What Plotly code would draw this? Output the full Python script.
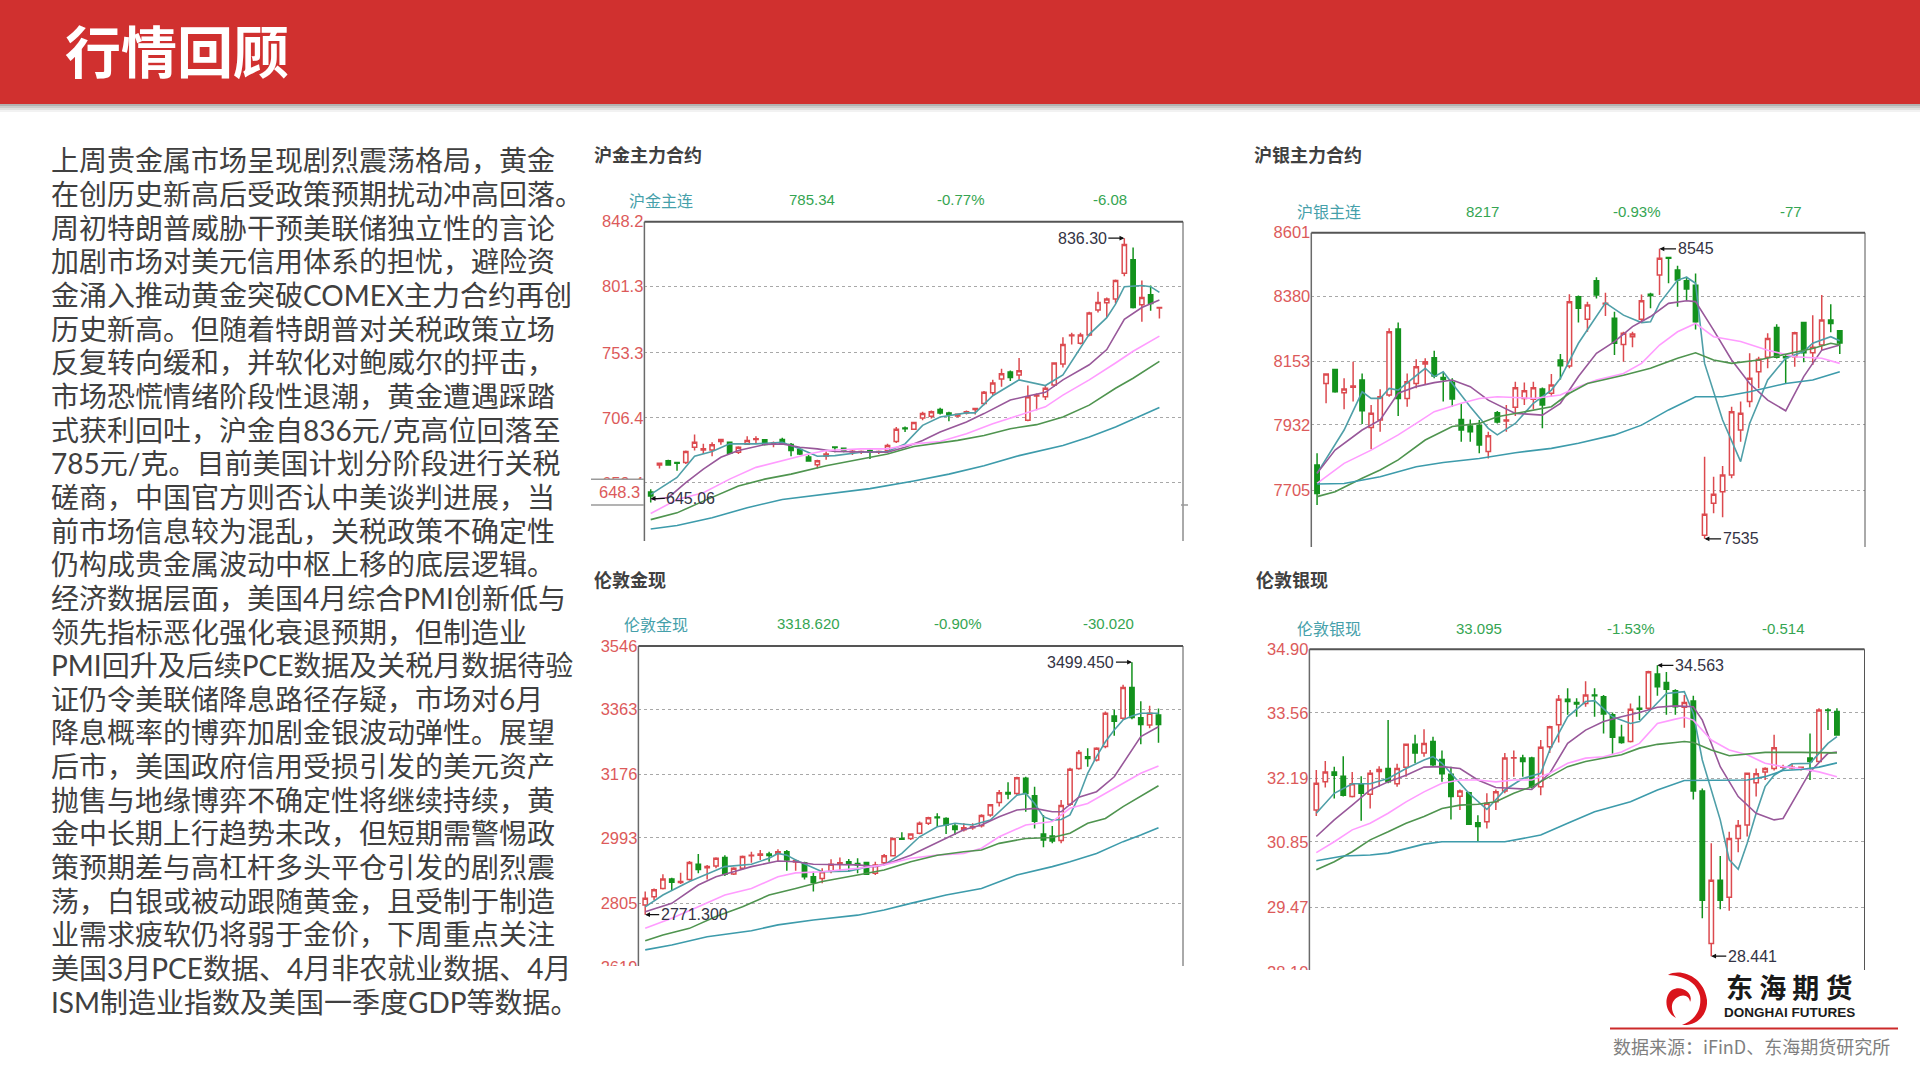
import re
import plotly.graph_objects as go

W, H = 1920, 1080
CJK = "Noto Sans CJK SC"
BODY = "Lato, Noto Sans CJK SC"
NARROW = "Liberation Sans"

page_title = "行情回顾"
body_lines = [
    "上周贵金属市场呈现剧烈震荡格局，黄金",
    "在创历史新高后受政策预期扰动冲高回落。",
    "周初特朗普威胁干预美联储独立性的言论",
    "加剧市场对美元信用体系的担忧，避险资",
    "金涌入推动黄金突破COMEX主力合约再创",
    "历史新高。但随着特朗普对关税政策立场",
    "反复转向缓和，并软化对鲍威尔的抨击，",
    "市场恐慌情绪阶段性退潮，黄金遭遇踩踏",
    "式获利回吐，沪金自836元/克高位回落至",
    "785元/克。目前美国计划分阶段进行关税",
    "磋商，中国官方则否认中美谈判进展，当",
    "前市场信息较为混乱，关税政策不确定性",
    "仍构成贵金属波动中枢上移的底层逻辑。",
    "经济数据层面，美国4月综合PMI创新低与",
    "领先指标恶化强化衰退预期，但制造业",
    "PMI回升及后续PCE数据及关税月数据待验",
    "证仍令美联储降息路径存疑，市场对6月",
    "降息概率的博弈加剧金银波动弹性。展望",
    "后市，美国政府信用受损引发的美元资产",
    "抛售与地缘博弈不确定性将继续持续，黄",
    "金中长期上行趋势未改，但短期需警惕政",
    "策预期差与高杠杆多头平仓引发的剧烈震",
    "荡，白银或被动跟随黄金，且受制于制造",
    "业需求疲软仍将弱于金价，下周重点关注",
    "美国3月PCE数据、4月非农就业数据、4月",
    "ISM制造业指数及美国一季度GDP等数据。",
]
source_text = "数据来源：iFinD、东海期货研究所"

# ---------------- 沪金主连 ----------------
shau_ticks = ["848.2", "801.3", "753.3", "706.4", "659.4", "610.2"]
shau_open = [652.7,672.2,675.3,674.1,674.1,685.1,683.1,683.1,689.2,688.7,681.4,687.3,690.7,690.5,687.8,690.7,687.0,683.4,678.0,672.4,678.5,685.3,684.4,681.7,681.4,682.7,681.4,682.7,689.2,699.0,698.0,706.3,707.5,712.4,709.9,707.7,709.9,712.4,716.7,724.5,734.5,739.4,737.4,704.6,722.1,721.6,730.1,745.2,765.7,760.3,766.2,784.4,789.5,792.2,811.0,820.7,788.1,795.4,785.7]
shau_high = [654.7,673.4,676.1,674.5,682.7,694.3,687.5,688.7,691.2,689.2,685.8,693.1,693.1,690.9,689.2,691.9,688.2,684.4,679.5,676.1,681.9,685.8,684.8,683.1,682.7,683.4,682.7,687.5,699.7,700.0,703.4,710.7,711.6,713.6,710.7,709.4,711.6,713.6,725.8,733.8,741.8,740.6,749.6,729.7,724.0,730.1,746.5,764.7,767.9,767.9,783.0,797.6,793.4,806.4,836.3,829.5,805.6,802.0,786.1]
shau_low = [645.06,669.7,671.7,668.0,672.9,682.7,680.2,678.5,686.8,680.2,680.2,686.8,687.5,686.3,685.1,687.5,678.5,679.5,674.6,669.7,676.1,681.4,681.4,679.5,680.2,676.6,680.2,681.4,688.2,696.1,698.0,704.6,705.8,708.7,703.8,706.8,708.7,708.7,715.5,722.8,728.9,733.0,733.8,703.8,711.9,719.2,728.9,742.8,759.4,759.4,765.4,782.5,779.3,789.0,808.8,785.4,775.9,783.7,778.1]
shau_close = [649.8,673.4,672.2,673.4,682.0,688.7,683.9,686.8,690.7,680.7,685.1,690.0,691.2,687.0,688.2,688.2,682.7,680.2,675.1,675.3,680.2,684.8,682.7,682.2,682.0,681.4,682.0,686.3,698.0,698.5,702.9,709.4,710.7,709.9,708.7,709.0,710.7,713.1,724.8,731.6,738.2,735.5,740.4,721.6,722.8,727.7,746.0,759.4,766.2,766.2,782.2,789.8,792.2,805.6,831.7,786.1,793.4,789.1,786.1]
shau_ma5_i = [0,3,5,7,9,12,15,17,19,21,24,27,29,31,33,36,37,39,42,45,47,50,52,53,54,56,57,58]
shau_ma5 = [651,663.2,678.5,682,687.5,687.5,688.7,683.9,678.5,679,681.4,682,687.5,700.9,707,709.9,709.9,722.3,733.8,729.7,737.4,766.7,778.8,788.6,801.2,802,801.2,797.1]
shau_ma10_i = [0,2,4,6,8,10,13,15,17,19,21,25,27,29,31,33,36,38,41,43,45,47,50,52,54,56,58]
shau_ma10 = [647.3,648.6,659.5,669.3,677.8,682.7,687,687.5,685.1,683.9,682,681.4,681.4,685.1,690,696.1,703.4,709.4,719.2,722.1,724.8,733.8,744.7,755.7,777.6,786.1,791.5]
shau_ma20_i = [0,3,6,9,12,15,18,20,24,27,30,33,36,39,42,45,47,50,53,55,58]
shau_ma20 = [637.1,647.3,652.2,662,670.5,675.3,680.2,682.7,683.9,683.9,687.5,689.2,694.8,702.1,708.2,714.3,722.8,733.8,746,754.5,765.4]
shau_ma30_i = [0,3,6,10,13,16,20,24,27,30,35,38,41,44,47,50,53,55,58]
shau_ma30 = [632.7,637.6,646.1,657.1,662,665.6,671.7,676.6,680.2,685.6,690,693.6,698.5,701.4,707,715.5,727.7,735,747.2]
shau_ma60_i = [0,3,7,11,15,20,25,30,34,38,42,47,50,53,56,58]
shau_ma60 = [625.9,628.4,634,641.3,647.3,651,655.1,660.7,665.6,671.7,679,686.3,692.4,699.7,708.2,713.8]

# ---------------- 沪银主连 ----------------
shag_ticks = ["8601", "8380", "8153", "7932", "7705", "7478"]
shag_open = [7792,8076,8125,8044,8063,8088,7923,7949,8036,8266,8024,8076,8144,8166,8097,8080,7951,7928,7930,7839,7974,7945,7993,8024,8021,8057,8042,8158,8137,8378,8300,8434,8353,8303,8212,8239,8300,8387,8454,8515,8471,8434,8418,7548,7659,7699,7757,7914,8013,8117,8167,8271,8169,8169,8288,8183,8210,8297,8260]
shag_high = [7833,8109,8127,8094,8152,8111,8001,8056,8268,8288,8111,8160,8164,8190,8117,8094,8007,7951,7949,7908,7980,8001,8082,8079,8082,8062,8109,8179,8387,8382,8361,8446,8392,8326,8256,8256,8386,8392,8545,8517,8486,8448,8459,7821,7751,7789,7995,8013,8181,8169,8251,8282,8175,8256,8291,8314,8384,8352,8262]
shag_low = [7653,8007,8044,7986,8013,7935,7847,7908,8030,7963,7995,8059,8071,8094,8013,7995,7873,7873,7833,7815,7937,7908,7963,8001,7986,7920,8030,8090,8129,8288,8256,8372,8311,8175,8152,8202,8291,8338,8384,8425,8343,8367,8264,7535,7624,7610,7746,7873,7993,8059,8129,8163,8076,8134,8150,8140,8192,8254,8179]
shag_close = [7693,8109,8047,8057,8067,7981,7972,8030,8256,8024,8082,8134,8152,8102,8090,8022,7914,7908,7862,7894,7942,7949,8061,8051,8061,8001,8071,8138,8361,8338,8349,8384,8355,8216,8251,8248,8364,8382,8512,8512,8436,8405,8291,7621,7690,7757,7978,7972,8094,8160,8233,8167,8166,8253,8183,8202,8297,8285,8217]
shag_ma5_i = [0,3,5,6,7,8,9,11,12,13,14,15,17,19,20,22,24,26,27,29,31,32,34,36,37,38,40,41,42,43,45,47,48,50,52,54,55,56,57,58]
shag_ma5 = [7763,7914,8047,8024,8024,8059,8053,8105,8129,8100,8117,8076,7995,7920,7897,7937,8007,8053,8094,8216,8309,8357,8314,8288,8291,8355,8436,8446,8425,8146,7949,7804,7937,8088,8164,8187,8216,8227,8239,8225]
shag_ma10_i = [0,2,5,7,9,11,13,15,17,19,22,25,27,29,31,33,35,37,39,41,42,44,46,48,50,52,54,56,58]
shag_ma10 = [7763,7844,7914,7949,8042,8065,8079,8088,8065,8018,7972,7966,8007,8100,8181,8222,8274,8309,8355,8364,8361,8262,8158,8076,8018,7981,8100,8192,8210]
shag_ma20_i = [0,3,6,9,11,13,16,18,20,24,27,29,31,34,36,38,40,42,44,47,50,53,56,58]
shag_ma20 = [7728,7798,7844,7897,7937,7978,8007,8024,8030,8024,8036,8065,8088,8111,8146,8210,8256,8285,8239,8222,8192,8169,8164,8146]
shag_ma30_i = [0,2,5,7,9,12,15,18,20,23,26,28,30,34,37,40,42,44,46,49,52,55,57,58]
shag_ma30 = [7682,7699,7746,7775,7810,7879,7926,7937,7960,7978,7995,8042,8076,8105,8129,8164,8183,8158,8146,8158,8179,8198,8216,8210]
shag_ma60_i = [0,3,7,11,14,18,22,26,29,33,36,39,42,45,48,52,55,58]
shag_ma60 = [7726,7728,7751,7786,7801,7815,7835,7850,7868,7897,7931,7984,8030,8030,8047,8076,8088,8117]

# ---------------- 伦敦金现 ----------------
lnau_ticks = ["3546", "3363", "3176", "2993", "2805", "2619"]
lnau_open = [2799,2823,2847,2874,2864,2873,2917,2907,2912,2936,2889,2905,2941,2943,2946,2948,2953,2923,2921,2881,2876,2897,2917,2924,2919,2922,2891,2921,2941,2991,2991,3006,3035,3053,3049,3027,3016,3022,3028,3059,3095,3124,3121,3165,3114,3004,2998,2985,3090,3193,3227,3217,3256,3344,3338,3426,3339,3318,3347]
lnau_high = [2838,2847,2888,2878,2892,2926,2946,2915,2937,2943,2908,2942,2953,2958,2953,2960,2958,2931,2924,2895,2905,2931,2936,2932,2934,2924,2924,2946,2993,3009,3006,3040,3054,3064,3052,3033,3035,3035,3061,3090,3131,3153,3169,3169,3140,3059,3027,3102,3195,3246,3251,3254,3357,3362,3434,3499.45,3387,3374,3366]
lnau_low = [2771.3,2814,2844,2841,2860,2869,2891,2873,2905,2883,2886,2900,2921,2929,2924,2924,2898,2898,2873,2838,2862,2891,2895,2895,2891,2886,2886,2915,2939,2987,2987,3003,3030,3025,3004,3001,3011,3016,3023,3054,3083,3104,3116,3068,3020,2966,2977,2977,3085,3189,3198,3213,3251,3287,3333,3335,3263,3309,3267]
lnau_close = [2819,2843,2874,2865,2867,2922,2902,2910,2934,2888,2905,2939,2943,2946,2942,2953,2929,2927,2881,2864,2895,2917,2921,2917,2915,2888,2915,2941,2991,2989,3004,3035,3051,3051,3030,3017,3022,3025,3057,3088,3123,3119,3166,3121,3041,2987,2984,3086,3191,3239,3222,3251,3352,3329,3426,3340,3320,3352,3320]
lnau_ma5_i = [0,2,5,8,9,12,14,15,16,17,19,20,23,25,27,29,31,33,35,37,39,41,42,43,44,45,46,47,48,49,50,51,52,53,54,55,56,58]
lnau_ma5 = [2794,2828,2867,2900,2910,2917,2934,2948,2943,2929,2905,2895,2897,2908,2915,2948,2996,3025,3035,3030,3044,3092,3116,3121,3092,3054,3044,3046,3059,3112,3179,3227,3270,3304,3333,3344,3352,3352]
lnau_ma10_i = [0,3,6,8,10,12,15,17,19,21,24,26,28,30,32,34,36,38,40,42,44,46,47,49,51,53,55,56,58]
lnau_ma10 = [2780,2804,2857,2881,2895,2910,2926,2924,2917,2917,2915,2910,2924,2943,2967,2991,3016,3030,3054,3073,3078,3068,3068,3110,3126,3169,3246,3285,3313]
lnau_ma20_i = [0,3,6,9,12,15,17,20,24,27,30,33,36,38,40,43,46,48,50,52,54,56,58]
lnau_ma20 = [2732,2761,2794,2828,2847,2881,2892,2895,2905,2915,2934,2943,2948,2963,2996,3030,3040,3078,3092,3121,3150,3179,3200]
lnau_ma30_i = [0,2,5,8,11,14,17,20,24,27,30,33,36,38,40,43,46,48,50,52,54,56,58]
lnau_ma30 = [2696,2713,2732,2766,2794,2828,2847,2867,2886,2900,2924,2943,2953,2958,2977,2991,2994,3006,3035,3049,3083,3112,3143]
lnau_ma60_i = [0,3,7,12,15,19,24,27,30,34,38,42,46,48,51,54,56,58]
lnau_ma60 = [2670,2684,2708,2725,2742,2756,2770,2785,2804,2828,2847,2886,2910,2924,2948,2982,3001,3022]

# ---------------- 伦敦银现 ----------------
lnag_ticks = ["34.90", "33.56", "32.19", "30.85", "29.47", "28.10"]
lnag_open = [31.52,32.11,32.32,32.23,31.80,32.07,31.85,32.33,32.39,32.07,32.42,32.90,32.72,32.96,32.58,32.27,31.81,31.88,31.25,31.27,31.69,31.92,32.61,32.61,32.61,32.01,32.85,33.31,33.85,33.78,33.76,33.94,33.90,33.52,33.05,32.96,33.66,33.66,34.38,34.20,34.03,33.68,33.81,31.92,28.71,30.04,29.68,30.92,31.20,32.09,32.32,32.39,32.42,32.40,32.39,32.61,32.54,33.62,33.59]
lnag_high = [32.36,32.55,32.43,32.65,32.32,32.23,32.36,32.44,33.41,32.49,32.92,33.10,33.22,33.06,32.77,32.43,31.95,31.90,31.41,31.87,31.95,32.72,32.77,32.68,32.64,32.99,33.29,33.94,34.08,33.87,34.23,34.08,33.94,33.57,33.31,33.76,33.92,34.45,34.563,34.42,34.06,33.94,33.92,31.97,30.82,30.55,31.06,31.31,32.30,32.39,32.42,33.10,32.47,32.49,32.43,33.13,33.66,33.66,33.66]
lnag_low = [31.39,31.99,31.76,31.80,31.78,31.29,31.55,32.01,32.08,32.01,32.22,32.50,32.64,32.43,32.11,31.32,31.52,31.20,30.85,31.13,31.52,31.87,32.22,32.22,31.97,31.83,32.72,32.94,33.52,33.48,33.69,33.48,33.13,32.70,32.91,32.94,33.41,33.62,33.92,33.52,33.52,33.25,31.74,29.24,28.441,29.43,29.40,30.63,30.96,31.80,32.15,32.35,32.37,32.37,32.35,32.15,32.51,33.20,33.08]
lnag_close = [32.08,32.32,32.25,31.83,32.07,31.87,32.29,32.37,32.11,32.39,32.90,32.72,32.92,32.47,32.28,31.80,31.92,31.22,31.17,31.66,31.90,32.61,32.62,32.54,32.01,32.84,33.27,33.85,33.80,33.75,33.94,33.92,33.54,33.05,32.94,33.64,33.64,34.43,34.11,34.06,33.69,33.78,31.92,29.62,30.04,29.62,30.92,31.19,32.29,32.28,32.39,32.83,32.43,32.42,32.42,32.54,33.62,33.61,33.095]
lnag_ma5_i = [0,2,4,6,8,10,12,13,14,15,17,19,21,23,25,26,28,30,31,33,35,36,38,39,41,42,43,45,46,47,48,49,50,51,53,55,56,57,58]
lnag_ma5 = [31.45,31.87,32.07,32.07,32.18,32.39,32.57,32.64,32.50,32.29,31.87,31.53,31.94,32.18,32.29,32.78,33.48,33.80,33.82,33.48,33.34,33.38,33.76,33.97,34.01,33.55,32.57,31.31,30.47,30.27,30.82,31.45,32.01,32.25,32.49,32.50,32.71,32.92,33.06]
lnag_ma10_i = [0,2,4,6,8,10,12,14,16,18,20,22,24,26,28,30,32,34,36,38,40,42,43,45,47,49,51,52,53,55,57,58]
lnag_ma10 = [30.96,31.31,31.62,31.94,32.11,32.25,32.42,32.43,32.39,32.15,31.99,31.97,31.95,32.29,32.92,33.20,33.38,33.48,33.57,33.68,33.71,33.69,33.41,32.43,31.80,31.45,31.31,31.34,31.66,32.32,32.71,32.74]
lnag_ma20_i = [0,2,4,6,8,10,12,14,16,18,20,22,24,26,28,30,32,34,36,38,40,41,42,44,46,48,50,52,54,56,58]
lnag_ma20 = [30.62,30.85,31.10,31.24,31.45,31.69,31.90,32.08,32.15,32.15,32.11,32.15,32.15,32.29,32.50,32.61,32.64,32.74,32.92,33.34,33.43,33.47,33.41,32.99,32.78,32.68,32.50,32.43,32.39,32.32,32.22]
lnag_ma30_i = [0,2,4,6,8,10,12,14,16,18,20,22,24,26,28,30,32,34,36,38,40,41,42,44,46,48,50,54,58]
lnag_ma30 = [30.26,30.43,30.64,30.89,31.06,31.24,31.38,31.55,31.62,31.64,31.69,31.87,32.01,32.22,32.43,32.54,32.61,32.68,32.82,32.90,32.94,32.96,32.94,32.78,32.66,32.70,32.73,32.73,32.72]
lnag_ma60_i = [0,3,6,8,12,14,21,25,28,31,35,38,41,48,50,52,54,56,58]
lnag_ma60 = [30.45,30.55,30.57,30.61,30.80,30.85,30.85,30.99,31.24,31.48,31.69,31.94,32.14,32.15,32.22,32.35,32.37,32.42,32.51]

RED, GREEN = "#dc4a4f", "#13921d"
MA_COLORS = ["#4f9fa8", "#98589a", "#ff9cff", "#4f944f", "#3d9bab"]


def X(p):
    return p / W


def Y(p):
    return 1 - p / H


charts = [
    dict(title="沪金主力合约", title_xy=(592, 154), head_y=200,
         head=[("沪金主连", 661), ("785.34", 812), ("-0.77%", 961), ("-6.08", 1110)],
         ticks=shau_ticks, ohlc=(shau_open, shau_high, shau_low, shau_close),
         mas=[(shau_ma5_i, shau_ma5), (shau_ma10_i, shau_ma10), (shau_ma20_i, shau_ma20),
              (shau_ma30_i, shau_ma30), (shau_ma60_i, shau_ma60)],
         left=644.4, right=1183, top=221.7, bottom=560, crop=541, cover=(590, 1190),
         xr=[-0.72, 60.69], yr=[603.5, 848.2],
         marks=[("836.30", 54, 836.3, -42), ("645.06", 0, 648, 40)]),
    dict(title="沪银主力合约", title_xy=(1252, 154), head_y=211,
         head=[("沪银主连", 1329), ("8217", 1482), ("-0.93%", 1637), ("-77", 1791)],
         ticks=shag_ticks, ohlc=(shag_open, shag_high, shag_low, shag_close),
         mas=[(shag_ma5_i, shag_ma5), (shag_ma10_i, shag_ma10), (shag_ma20_i, shag_ma20),
              (shag_ma30_i, shag_ma30), (shag_ma60_i, shag_ma60)],
         left=1311.3, right=1865, top=232.7, bottom=565, crop=547, cover=(1255, 1870),
         xr=[-0.64, 60.8], yr=[7444, 8601],
         marks=[("8545", 38, 8545, 36), ("7535", 43, 7535, 36)]),
    dict(title="伦敦金现", title_xy=(592, 579), head_y=624,
         head=[("伦敦金现", 656), ("3318.620", 808), ("-0.90%", 958), ("-30.020", 1108)],
         ticks=lnau_ticks, ohlc=(lnau_open, lnau_high, lnau_low, lnau_close),
         mas=[(lnau_ma5_i, lnau_ma5), (lnau_ma10_i, lnau_ma10), (lnau_ma20_i, lnau_ma20),
              (lnau_ma30_i, lnau_ma30), (lnau_ma60_i, lnau_ma60)],
         left=638.4, right=1183, top=646, bottom=985, crop=966, cover=(590, 1190),
         xr=[-0.77, 60.77], yr=[2568.7, 3546],
         marks=[("3499.450", 55, 3499.45, -51), ("2771.300", 0, 2771.3, 49)]),
    dict(title="伦敦银现", title_xy=(1254, 579), head_y=628,
         head=[("伦敦银现", 1329), ("33.095", 1479), ("-1.53%", 1631), ("-0.514", 1783)],
         ticks=lnag_ticks, ohlc=(lnag_open, lnag_high, lnag_low, lnag_close),
         mas=[(lnag_ma5_i, lnag_ma5), (lnag_ma10_i, lnag_ma10), (lnag_ma20_i, lnag_ma20),
              (lnag_ma30_i, lnag_ma30), (lnag_ma60_i, lnag_ma60)],
         left=1309.4, right=1864.5, top=649.3, bottom=990, crop=970, cover=(1255, 1870),
         xr=[-0.77, 61.07], yr=[27.73, 34.90],
         marks=[("34.563", 38, 34.563, 42), ("28.441", 44, 28.441, 41)]),
]

fig = go.Figure()
shapes, annos, axes = [], [], {}


def rect(x0, y0, x1, y1, color, opacity=1.0):
    shapes.append(dict(type="rect", xref="paper", yref="paper", layer="above",
                       x0=X(x0), x1=X(x1), y0=Y(y0), y1=Y(y1),
                       fillcolor=color, opacity=opacity, line=dict(width=0)))


def hline(x0, x1, y, color, width=1.0):
    shapes.append(dict(type="line", xref="paper", yref="paper", layer="above",
                       x0=X(x0), x1=X(x1), y0=Y(y), y1=Y(y), line=dict(color=color, width=width)))


def vline(x, y0, y1, color, width=1.0):
    shapes.append(dict(type="line", xref="paper", yref="paper", layer="above",
                       x0=X(x), x1=X(x), y0=Y(y0), y1=Y(y1), line=dict(color=color, width=width)))


def text(s, x, y, size, color, anchor="center", family=CJK):
    annos.append(dict(text=s, xref="paper", yref="paper", x=X(x), y=Y(y), xanchor=anchor,
                      yanchor="middle", showarrow=False, align="left",
                      font=dict(size=size, color=color, family=family)))


# page furniture
rect(0, 0, 1920, 104, "#d0302f")
for sh_y, op in [(104, .45), (106, .3), (108, .18), (110, .08)]:
    rect(0, sh_y, 1920, sh_y + 2, "#555555", op)
text(f"<b>{page_title}</b>", 63, 48.5, 56, "#ffffff", "left")
for k, line in enumerate(body_lines):
    text(line, 49, 160.4 + 33.65 * k, 28, "#404040", "left", BODY)

for n, c in enumerate(charts, start=1):
    sfx = "" if n == 1 else str(n)
    xa, ya = f"x{sfx}", f"y{sfx}"
    o, h, l, cl = c["ohlc"]
    count = len(o)
    fig.add_trace(go.Candlestick(
        x=list(range(count)), open=o, high=h, low=l, close=cl, xaxis=xa, yaxis=ya,
        whiskerwidth=0, hoverinfo="skip", showlegend=False,
        increasing=dict(line=dict(color=RED, width=1.5), fillcolor="#ffffff"),
        decreasing=dict(line=dict(color=GREEN, width=1.5), fillcolor=GREEN)))
    for (mx, my), col in zip(c["mas"], MA_COLORS):
        fig.add_trace(go.Scatter(x=mx, y=my, xaxis=xa, yaxis=ya, mode="lines", hoverinfo="skip",
                                 showlegend=False, line=dict(color=col, width=1.6)))
    axes[f"xaxis{sfx}"] = dict(domain=[X(c["left"]), X(c["right"])], range=c["xr"], anchor=ya,
                               showgrid=False, showticklabels=False, ticks="", zeroline=False,
                               showline=False, rangeslider=dict(visible=False))
    axes[f"yaxis{sfx}"] = dict(domain=[Y(c["bottom"]), Y(c["top"])], range=c["yr"], anchor=xa,
                               tickmode="array", tickvals=[float(t) for t in c["ticks"]],
                               ticktext=c["ticks"], ticks="", showline=False, zeroline=False,
                               showgrid=True, gridcolor="#a8a8a8", gridwidth=1, griddash="dot",
                               tickfont=dict(family=NARROW, size=16.5, color="#dc5a5a"))
    # frame, cropped like the pasted picture
    vline(c["left"], c["top"], c["bottom"], "#6a6a6a", 1.5)
    vline(c["right"], c["top"], c["bottom"], "#555555", 1.0)
    hline(c["left"], c["right"], c["top"], "#555555", 2.0)
    rect(c["cover"][0], c["crop"], c["cover"][1], c["bottom"] + 5, "#ffffff")
    # headings
    text(f"<b>{c['title']}</b>", c["title_xy"][0], c["title_xy"][1], 18, "#404040", "left")
    text(c["head"][0][0], c["head"][0][1], c["head_y"], 16, "#45a0aa")
    for s, hx in c["head"][1:]:
        text(s, hx, c["head_y"], 15, "#35a552", family=NARROW)
    for s, mi, mv, ax in c["marks"]:
        annos.append(dict(text=s, xref=xa, yref=ya, x=mi, y=mv, ax=ax, ay=0, showarrow=True,
                          arrowhead=2, arrowsize=0.8, arrowwidth=1.2, arrowcolor="#111111",
                          standoff=0, startstandoff=0,
                          font=dict(family=NARROW, size=16, color="#333344")))

# crosshair label on the first chart
rect(591, 480, 643, 504.5, "#ffffff")
hline(591, 644, 479.3, "#9a9a9a", 1.5)
hline(591, 644, 505, "#9a9a9a", 1.5)
hline(1181, 1188, 505, "#9a9a9a", 1.5)
text("648.3", 642, 492, 16.5, "#dc5a5a", "right", NARROW)

# logo (drawn in page pixels, mapped to paper coordinates) and source line
dragon_px = ("M 1668 975 C 1680 968 1704 976 1707 1000 C 1708 1016 1696 1026 1682 1025 "
             "C 1695 1020 1702 1010 1700 996 C 1697 982 1684 976 1668 975 Z "
             "M 1672 990 C 1664 996 1664 1012 1676 1018 C 1670 1010 1670 1000 1680 996 "
             "C 1686 994 1690 998 1690 1002 C 1694 994 1682 984 1672 990 Z")
parts, axis_flag = [], 0
for t in re.findall(r"[MCZ]|-?\d+\.?\d*", dragon_px):
    if t in "MCZ":
        parts.append(t)
    else:
        parts.append(f"{X(float(t)):.5f}" if axis_flag == 0 else f"{Y(float(t)):.5f}")
        axis_flag = 1 - axis_flag
shapes.append(dict(type="path", path=" ".join(parts), xref="paper", yref="paper", layer="above",
                   fillcolor="#d9141c", line=dict(width=0)))
hline(1610, 1898, 1028.5, "#cc2a2a", 2.0)
text("<b>东 海 期 货</b>", 1789, 986, 27, "#1a1a1a")
text("<b>DONGHAI FUTURES</b>", 1789, 1012.5, 13.5, "#1a1a1a", family="Liberation Sans")
text(source_text, 1611, 1046, 18, "#7f7f7f", "left")

fig.update_layout(width=W, height=H, margin=dict(l=0, r=0, t=0, b=0, autoexpand=False), autosize=False,
                  paper_bgcolor="#ffffff", plot_bgcolor="#ffffff", showlegend=False,
                  shapes=shapes, annotations=annos, **axes)
fig.write_html("out.html", config=dict(displayModeBar=False),
               post_script="document.body.style.margin='0';document.body.style.overflow='hidden';")
